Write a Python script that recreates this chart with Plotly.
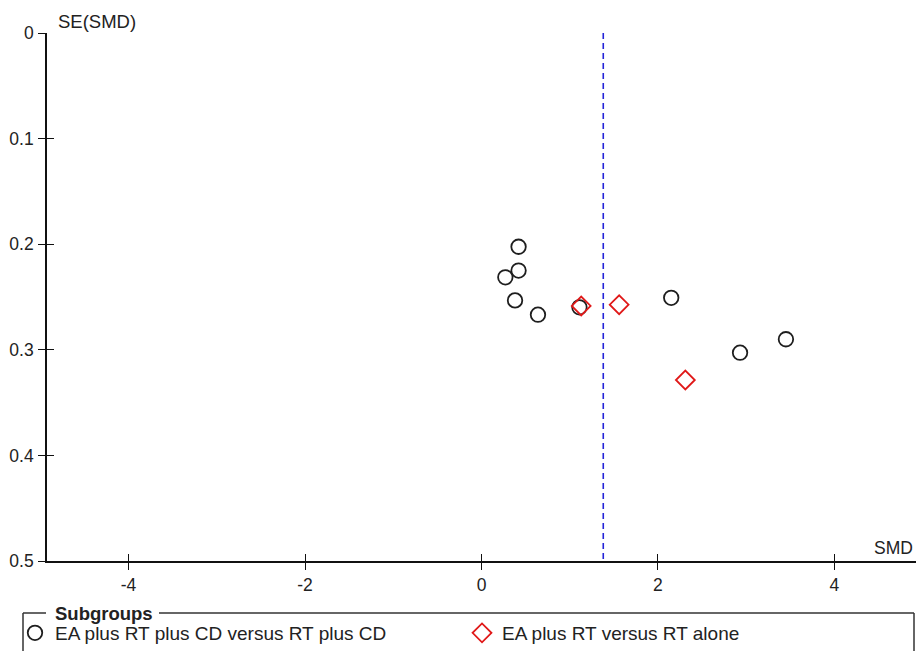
import plotly.graph_objects as go

# ---- data ----
g1_name = "EA plus RT plus CD versus RT plus CD"
g1_smd = [0.42, 0.42, 0.27, 0.38, 0.64, 1.11, 2.15, 2.93, 3.45]
g1_se = [0.2024, 0.225, 0.2314, 0.2532, 0.2667, 0.2598, 0.2508, 0.3027, 0.290]

g2_name = "EA plus RT versus RT alone"
g2_smd = [1.13, 1.56, 2.31]
g2_se = [0.2585, 0.2573, 0.3286]

pooled_smd = 1.38
x_ticks = [-4, -2, 0, 2, 4]
y_ticks = [0, 0.1, 0.2, 0.3, 0.4, 0.5]

W, H = 916, 651
L, R, T, B = 47, 0, 33, 90
pw, ph = W - L - R, H - T - B

def px_x(p):
    return (p - L) / pw

def px_y(p):
    return (H - B - p) / ph

FONT = "Liberation Sans"
TXT = "#222222"

fig = go.Figure()
fig.add_trace(go.Scatter(
    x=[pooled_smd, pooled_smd], y=[0, 0.5], mode="lines",
    line=dict(color="#2424d8", width=1.6, dash="6px,4px"),
    showlegend=False, hoverinfo="skip", xaxis="x2", yaxis="y2"))
fig.add_trace(go.Scatter(
    x=g1_smd, y=g1_se, mode="markers", name=g1_name, legend="legend",
    marker=dict(symbol="circle-open", size=14.5, color="#1e1e1e",
                line=dict(width=1.8, color="#1e1e1e")),
    cliponaxis=False))
fig.add_trace(go.Scatter(
    x=g2_smd, y=g2_se, mode="markers", name=g2_name, legend="legend2",
    marker=dict(symbol="diamond-open", size=14.5, color="#e01818",
                line=dict(width=1.8, color="#e01818")),
    cliponaxis=False))

xr = [-4.924, 4.924]
yr = [0.5, 0]
axis_common = dict(showgrid=False, zeroline=False)
leg_common = dict(yanchor="middle", y=px_y(633), xanchor="left",
                  bgcolor="rgba(0,0,0,0)", borderwidth=0,
                  font=dict(size=19, color=TXT), itemsizing="trace")
fig.update_layout(
    width=W, height=H,
    margin=dict(l=L, r=R, t=T, b=B, pad=0, autoexpand=False),
    paper_bgcolor="white", plot_bgcolor="white",
    font=dict(family=FONT, size=17, color=TXT),
    xaxis=dict(range=xr, tickvals=x_ticks, ticktext=[str(v) for v in x_ticks],
               ticks="outside", ticklen=7, tickwidth=1.3, tickcolor="#111",
               showline=True, linecolor="#111", linewidth=1.6,
               tickfont=dict(size=17.5, color=TXT), **axis_common),
    yaxis=dict(range=yr, tickvals=y_ticks, ticktext=["0", "0.1", "0.2", "0.3", "0.4", "0.5"],
               ticks="outside", ticklen=7, tickwidth=1.3, tickcolor="#111",
               showline=True, linecolor="#111", linewidth=1.6, ticklabelstandoff=1,
               tickfont=dict(size=17.5, color=TXT), **axis_common),
    xaxis2=dict(range=xr, overlaying="x", matches="x", tickvals=x_ticks,
                ticks="inside", ticklen=7, tickwidth=1.3, tickcolor="#111",
                showticklabels=False, showline=False, side="bottom", **axis_common),
    yaxis2=dict(range=yr, overlaying="y", matches="y", tickvals=y_ticks,
                ticks="inside", ticklen=7, tickwidth=1.3, tickcolor="#111",
                showticklabels=False, showline=False, side="left", **axis_common),
    legend=dict(x=px_x(15), **leg_common),
    legend2=dict(x=px_x(462), **leg_common),
    showlegend=True,
)

# legend frame with a gap in the top border for its title
frame = dict(color="#333", width=1.5)
top, bottom, left, right = 613, 668, 23, 914
for (xa, ya, xb, yb) in [(left, top, 46, top), (159, top, right, top),
                         (left, top, left, bottom), (right, top, right, bottom)]:
    fig.add_shape(type="line", xref="paper", yref="paper",
                  x0=px_x(xa), y0=px_y(ya), x1=px_x(xb), y1=px_y(yb), line=frame)
fig.add_annotation(xref="paper", yref="paper", x=px_x(53), y=px_y(613),
                   xanchor="left", yanchor="middle", showarrow=False,
                   text="<b>Subgroups</b>", font=dict(size=18.5, color=TXT))
# axis titles
fig.add_annotation(xref="paper", yref="paper", x=px_x(56), y=px_y(21),
                   xanchor="left", yanchor="middle", showarrow=False,
                   text="SE(SMD)", font=dict(size=18.5, color=TXT))
fig.add_annotation(xref="paper", yref="paper", x=px_x(915), y=px_y(548),
                   xanchor="right", yanchor="middle", showarrow=False,
                   text="SMD", font=dict(size=17.5, color=TXT))

fig.write_html("out.html")
